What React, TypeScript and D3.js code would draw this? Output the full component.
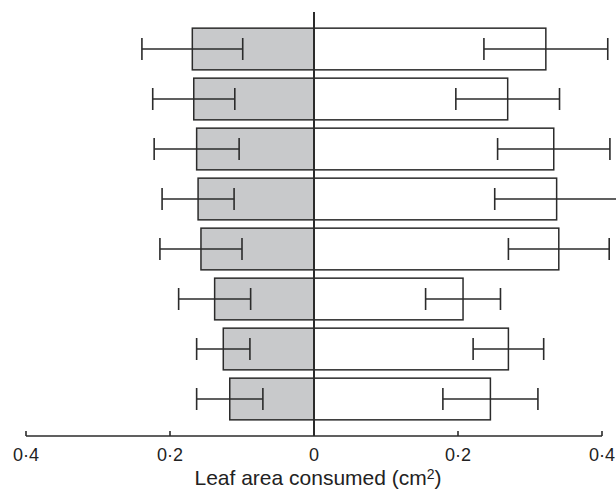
import React from "react";
import * as d3 from "d3";

const categories = ["1", "2", "3", "4", "5", "6", "7", "8"];
const leftValues = [0.169, 0.167, 0.163, 0.161, 0.157, 0.138, 0.126, 0.117];
const leftErrors = [0.07, 0.057, 0.059, 0.05, 0.057, 0.05, 0.037, 0.046];
const rightValues = [0.322, 0.269, 0.333, 0.337, 0.34, 0.207, 0.27, 0.245];
const rightErrors = [0.086, 0.072, 0.078, 0.086, 0.07, 0.052, 0.049, 0.066];
const tickValues = [-0.4, -0.2, 0, 0.2, 0.4];
const tickLabels = ["0·4", "0·2", "0", "0·2", "0·4"];

const W = 616;
const H = 490;

export default function App() {
  const x = d3.scaleLinear().domain([-0.4, 0.4]).range([26, 602]);
  const y = d3.scaleBand<string>().domain(categories).range([24, 424]).paddingInner(0.166).paddingOuter(0.083);
  const axisY = 436;
  const cap = 11;
  const stroke = "#2b2b2b";
  const font = "'Liberation Sans', Arial, Helvetica, sans-serif";

  return (
    <svg width={W} height={H} style={{ position: "absolute", left: 0, top: 0, background: "#fff" }}>
      {categories.map((c, i) => {
        const y0 = y(c)!;
        const bh = y.bandwidth();
        return (
          <g key={c}>
            <rect x={x(-leftValues[i])} y={y0} width={x(0) - x(-leftValues[i])} height={bh} fill="#c8c9cb" stroke={stroke} strokeWidth={1.5} />
            <rect x={x(0)} y={y0} width={x(rightValues[i]) - x(0)} height={bh} fill="#fff" stroke={stroke} strokeWidth={1.5} />
          </g>
        );
      })}
      {categories.map((c, i) => {
        const cy = y(c)! + y.bandwidth() / 2;
        const l1 = x(-(leftValues[i] + leftErrors[i]));
        const l2 = x(-(leftValues[i] - leftErrors[i]));
        const r1 = x(rightValues[i] - rightErrors[i]);
        const r2 = x(rightValues[i] + rightErrors[i]);
        return (
          <g key={"e" + c} stroke={stroke} strokeWidth={1.6}>
            <line x1={l1} x2={l2} y1={cy} y2={cy} />
            <line x1={l1} x2={l1} y1={cy - cap} y2={cy + cap} />
            <line x1={l2} x2={l2} y1={cy - cap} y2={cy + cap} />
            <line x1={r1} x2={r2} y1={cy} y2={cy} />
            <line x1={r1} x2={r1} y1={cy - cap} y2={cy + cap} />
            <line x1={r2} x2={r2} y1={cy - cap} y2={cy + cap} />
          </g>
        );
      })}
      <line x1={x(0)} x2={x(0)} y1={12} y2={axisY} stroke={stroke} strokeWidth={2} />
      <line x1={x(-0.4)} x2={x(0.4)} y1={axisY} y2={axisY} stroke={stroke} strokeWidth={1.6} />
      {tickValues.map((t, i) => (
        <g key={"t" + i}>
          <line x1={x(t)} x2={x(t)} y1={axisY - 5} y2={axisY} stroke={stroke} strokeWidth={1.6} />
          <text x={x(t)} y={461} textAnchor="middle" fontFamily={font} fontSize={18} fill="#222">
            {tickLabels[i]}
          </text>
        </g>
      ))}
      <text x={x(0) + 4} y={485} textAnchor="middle" fontFamily={font} fontSize={21} fill="#222">
        Leaf area consumed (cm<tspan fontSize={14} dy={-6}>2</tspan>
        <tspan dy={6}>)</tspan>
      </text>
    </svg>
  );
}
